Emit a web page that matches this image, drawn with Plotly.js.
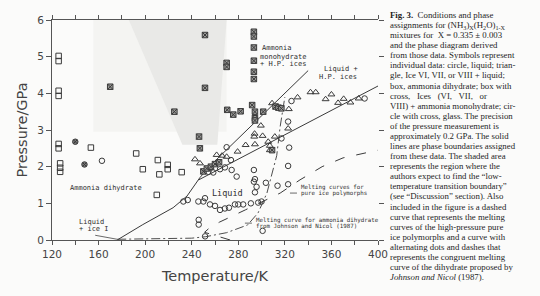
<!DOCTYPE html>
<html><head><meta charset="utf-8">
<script src="https://cdn.plot.ly/plotly-3.0.1.min.js"></script>
<style>body{margin:0;background:#fbfbfa}#g{width:540px;height:296px}</style>
</head><body><div id="g"></div>
<script>
// ---- data (Temperature / K, Pressure / GPa) ----
const dihydrateT = [125.7,125.7,125.7,125.7,125.7,125.7,127,127,127,153.4,192.3,198,210.9,212.2,219.4,219.4,231.4,210];
const dihydrateP = [5.02,4.88,4.07,3.93,2.62,2.5,2.09,1.97,1.86,2.52,2.36,1.93,2.18,1.79,2.05,1.93,1.85,1.23];

const glassT = [140,147.9];
const glassP = [2.68,2.06];

const monoT = [170,225.1,251.4,293.4,293.4,293.4,270,270,293.4,293.4,293.4,251.4,270.5,275.7,282,291.9,294.3,301.4,294.3,294.3,246.3,247,312,314.5,317,250,253,256.5,260,263.5,309];
const monoP = [4.18,3.5,5.59,5.68,5.55,5.25,4.83,4.72,4.89,4.59,4.39,4.15,3.55,3.42,3.51,3.68,3.5,3.5,3.32,3.26,2.82,2.5,3.64,3.61,3.59,1.87,1.95,2.0,2.07,2.12,2.45];

const iceLiqT = [242.8,247.1,261.4,279.4,286.3,294.3,293.7,300.9,299.4,305.7,307.1,307.1,311.4,309,323.4,330.9,342,346.5,355,360,365.7,370.5,376.3,383.4,322.8,294,266,270];
const iceLiqP = [2.2,2.09,2.32,2.41,2.59,2.61,2.82,2.84,3.12,2.68,2.57,2.45,2.82,3.73,3.57,3.89,4.03,4.03,3.84,3.97,3.74,3.85,3.75,3.86,3.04,2.9,2.3,2.27];

const liquidT = [162.9,232.8,236.6,245.7,246,246,251.4,250,255.7,260,264.3,268.5,272,277.1,280,284.2,290.8,297.1,300,294.3,293.4,294.3,295.7,293.4,303.7,313.7,322.8,322.8,300.9,274.3,278.6,270,323.7,254.3,258.5,264.3,268.5,273.7,317.1,325.7,322.8,388.5,251.5];
const liquidP = [2.16,1.05,1.09,1.05,0.55,0.42,1.14,1.05,0.97,0.93,0.82,0.86,0.88,0.97,0.97,0.97,1.0,1.02,1.05,1.3,1.59,1.66,1.45,1.91,1.56,1.48,1.52,2.02,0.25,1.91,1.73,2.53,2.52,1.86,1.84,1.93,1.98,2.18,2.77,3.79,3.23,3.86,0.1];

// phase boundaries (solid)
const bound1T = [176,198,224,236,247,256,340];
const bound1P = [0,0.42,0.88,1.2,1.7,2.03,4.62];
const bound2T = [246,400];
const bound2P = [1.64,4.2];
// melting curves of pure ice polymorphs (dashed)
const iceMeltT = [273,251,256,264,286,316,333,352,370,387,400];
const iceMeltP = [0,0.21,0.35,0.49,0.82,1.28,1.64,2.0,2.24,2.37,2.45];
// congruent melting curve of the dihydrate, Johnson and Nicol 1987 (dash-dot)
const jnT = [176,215,240,252,270,288,297,304.6,309.8,313,316,320];
const jnP = [0.02,0.03,0.05,0.09,0.2,0.41,0.74,1.28,1.91,2.3,3.1,3.9];
// shaded region (expected low-temperature transition boundary)
const shadeT = [186,270,262,232,186];
const shadeP = [6,6,2.6,2.6,6];
const paleT = [155.5,270,270,155.5,155.5];
const paleP = [6,6,2.95,2.95,6];

const xTicks = [120,160,200,240,280,320,360,400];
const yTicks = [0,1,2,3,4,5,6];

const captionLines = [
 "<b>Fig. 3.</b>  Conditions and phase",
 "assignments for (NH<sub>3</sub>)<sub>X</sub>(H<sub>2</sub>O)<sub>1-X</sub>",
 "mixtures for  X = 0.335 ± 0.003",
 "and the phase diagram derived",
 "from those data. Symbols represent",
 "individual data: circle, liquid; trian-",
 "gle, Ice VI, VII, or VIII + liquid;",
 "box, ammonia dihydrate; box with",
 "cross,   Ices   (VI,   VII,   or",
 "VIII) + ammonia monohydrate; cir-",
 "cle with cross, glass. The precision",
 "of the pressure measurement is",
 "approximately 0.2 GPa. The solid",
 "lines are phase boundaries assigned",
 "from these data. The shaded area",
 "represents the region where the",
 "authors expect to find the “low-",
 "temperature transition boundary”",
 "(see “Discussion” section). Also",
 "included in the figure is a dashed",
 "curve that represents the melting",
 "curves of the high-pressure pure",
 "ice polymorphs and a curve with",
 "alternating dots and dashes that",
 "represents the congruent melting",
 "curve of the dihydrate proposed by",
 "<i>Johnson and Nicol</i> (1987)."
];

const ink = '#3a3a3a';
const mk = (sym, size, fill, lw) => ({symbol: sym, size: size, color: fill, line: {color: ink, width: lw}});

const traces = [
 {x: paleT, y: paleP, mode: 'lines', fill: 'toself', fillcolor: '#f4f4f2', line: {width: 0}, hoverinfo: 'skip'},
 {x: shadeT, y: shadeP, mode: 'lines', fill: 'toself', fillcolor: '#e9e9e7', line: {width: 0}, hoverinfo: 'skip'},
 {x: bound1T, y: bound1P, mode: 'lines', line: {color: ink, width: 1}},
 {x: bound2T, y: bound2P, mode: 'lines', line: {color: ink, width: 1}},
 {x: iceMeltT, y: iceMeltP, mode: 'lines', line: {color: ink, width: 1, dash: '10px,12px'}},
 {x: jnT, y: jnP, mode: 'lines', line: {color: ink, width: 0.9, dash: '9px,3px,2px,3px'}},
 {x: dihydrateT, y: dihydrateP, mode: 'markers', marker: mk('square-open', 5.5, ink, 1)},
 {x: liquidT, y: liquidP, mode: 'markers', marker: mk('circle-open', 5.5, ink, 1)},
 {x: iceLiqT, y: iceLiqP, mode: 'markers', marker: mk('triangle-up-open', 6, ink, 1)},
 {x: monoT, y: monoP, mode: 'markers', marker: mk('square-x', 5.5, '#9a9a98', 1)},
 {x: glassT, y: glassP, mode: 'markers', marker: mk('circle-x', 5.5, '#777', 1)},
 {x: [null], y: [null], yaxis: 'y2', mode: 'markers', hoverinfo: 'skip'}
];

const mono = {family: 'DejaVu Sans Mono', color: '#2e2e2e'};
const lab = (t, x, y, size, anchor) => ({text: t, x: x, y: y, xref: 'x', yref: 'y', showarrow: false,
  xanchor: anchor || 'left', yanchor: 'middle', font: Object.assign({size: size}, mono)});
// leader lines: anchored at a data point, tail offset in pixels
const lead = (x, y, dx, dy) => ({type: 'line', xref: 'x', yref: 'y', xsizemode: 'pixel', ysizemode: 'pixel',
  xanchor: x, yanchor: y, x0: 0, y0: 0, x1: dx, y1: dy, line: {color: '#444', width: 0.8}});

const annotations = [
 lab('Ammonia', 299, 5.24, 7), lab('monohydrate', 297, 5.0, 7), lab('+ H.P. ices', 296.5, 4.79, 7),
 lab('Liquid +', 351.5, 4.66, 7), lab('H.P. ices', 347.5, 4.44, 7),
 lab('Ammonia dihydrate', 166.5, 1.42, 7, 'center'),
 lab('Liquid', 271, 1.28, 8.5, 'center'),
 lab('Liquid', 141.5, 0.5, 7), lab('+ ice I', 141.5, 0.29, 7),
 lab('Melting curves for', 332, 1.42, 5.8), lab('pure ice polymorphs', 332, 1.26, 5.8),
 lab('Melting curve for ammonia dihydrate', 293.5, 0.545, 5.8), lab('from Johnson and Nicol (1987)', 293.5, 0.39, 5.8)
];
captionLines.forEach((t, i) => {
  const py = 15 + i * 10.08;
  annotations.push({text: t, xref: 'paper', yref: 'paper', x: (388 - 51.7) / 326.6, y: (240 - py) / 220,
    xanchor: 'left', yanchor: 'middle', align: 'left', showarrow: false,
    font: {family: 'Liberation Serif', size: 8.8, color: '#1e1e1e'}});
});

const layout = {
  width: 540, height: 296, margin: {l: 52, r: 162, t: 20, b: 56},
  paper_bgcolor: '#fbfbfa', plot_bgcolor: '#fbfbfa', showlegend: false,
  font: {family: 'DejaVu Sans', color: '#444'},
  xaxis: {range: [120, 400], tickvals: xTicks, ticks: 'outside', ticklen: 4, tickcolor: '#555',
    minor: {dtick: 20, tick0: 120, ticks: 'outside', ticklen: 4, tickcolor: '#555'},
    showline: true, linecolor: '#555', linewidth: 1, mirror: 'ticks', showgrid: false, zeroline: false,
    tickfont: {size: 10.5, color: '#444'},
    title: {text: 'Temperature/K', font: {size: 14.5, color: '#444'}, standoff: 12}},
  yaxis: {range: [0, 6], tickvals: yTicks, ticks: 'outside', ticklen: 5, tickcolor: '#555',
    showline: true, linecolor: '#555', linewidth: 1, showgrid: false, zeroline: false,
    tickfont: {size: 10.5, color: '#444'},
    title: {text: 'Pressure/GPa', font: {size: 14.5, color: '#444'}, standoff: 6}},
  yaxis2: {range: [0, 6], tickvals: yTicks, overlaying: 'y', side: 'right', ticks: 'outside', ticklen: 5,
    tickcolor: '#555', showline: false, showticklabels: false, showgrid: false, zeroline: false},
  shapes: [lead(176, 0.02, -22, 4), lead(324.4, 1.28, 7, 0), lead(285.7, 0.46, 7, 0)],
  annotations: annotations
};
Plotly.newPlot('g', traces, layout, {displayModeBar: false, staticPlot: true});
</script></body></html>
